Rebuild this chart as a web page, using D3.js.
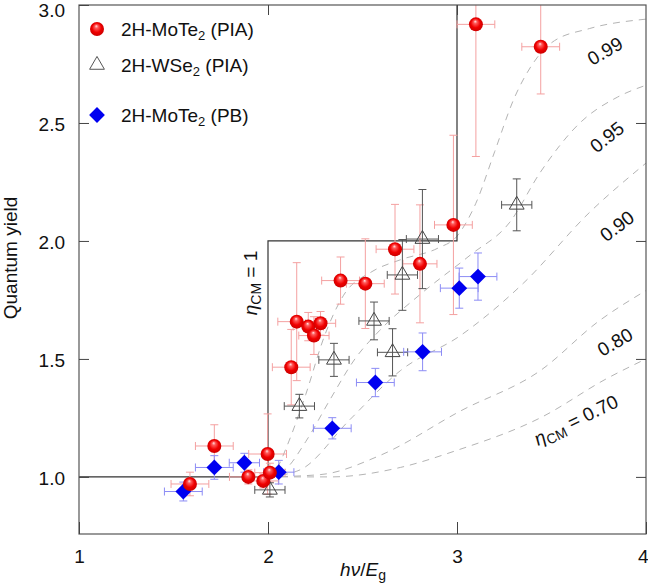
<!DOCTYPE html>
<html>
<head>
<meta charset="utf-8">
<script src="https://cdn.jsdelivr.net/npm/d3@7"></script>
<style>
  body { margin: 0; background: #fff; }
  text { font-family: "Liberation Sans", Arial, sans-serif; fill: #111; }
</style>
</head>
<body>
<div id="chart"></div>
<script>
// --- data ---
var moteX    = [1.587, 1.716, 1.896, 1.975, 1.998, 2.010, 2.123, 2.152, 2.213, 2.243, 2.278, 2.384, 2.515, 2.672, 2.804, 2.981, 3.100, 3.443];
var moteY    = [0.970, 1.131, 1.000, 0.983, 1.097, 1.018, 1.465, 1.658, 1.637, 1.599, 1.651, 1.832, 1.819, 1.965, 1.903, 2.068, 2.918, 2.823];
var moteXErr = [0.10, 0.10, 0.10, 0.08, 0.10, 0.08, 0.10, 0.10, 0.08, 0.08, 0.08, 0.10, 0.10, 0.10, 0.09, 0.10, 0.10, 0.10];
var moteYErr = [0.05, 0.09, 0.03, 0.03, 0.17, 0.04, 0.16, 0.25, 0.06, 0.08, 0.05, 0.10, 0.19, 0.19, 0.25, 0.38, 0.56, 0.20];

var wseX    = [2.010, 2.166, 2.349, 2.561, 2.659, 2.711, 2.817, 3.316];
var wseY    = [0.945, 1.300, 1.496, 1.661, 1.528, 1.856, 2.008, 2.153];
var wseXErr = [0.08, 0.08, 0.08, 0.08, 0.08, 0.08, 0.085, 0.08];
var wseYErr = [0.03, 0.05, 0.07, 0.08, 0.10, 0.15, 0.21, 0.11];

var pbX    = [1.552, 1.716, 1.875, 2.057, 2.340, 2.568, 2.818, 3.012, 3.111];
var pbY    = [0.938, 1.040, 1.060, 1.020, 1.206, 1.400, 1.530, 1.800, 1.849];
var pbXErr = [0.10, 0.10, 0.08, 0.08, 0.10, 0.10, 0.10, 0.10, 0.10];
var pbYErr = [0.04, 0.05, 0.04, 0.05, 0.045, 0.06, 0.08, 0.085, 0.10];

// ideal staircase (eta_CM = 1)
var stepX = [1, 2, 2, 3, 3];
var stepY = [1, 1, 2, 2, 3];

// model curves for eta_CM < 1 (traced)
var etaLabels = ["0.99", "0.95", "0.90", "0.80", "0.70"];
var curve099 = [[2, 1], [2.05, 1.04], [2.1, 1.13], [2.2, 1.35], [2.3, 1.6], [2.4, 1.77], [2.55, 1.87], [2.7, 1.92], [2.9, 1.97], [3.0, 2.02], [3.05, 2.08], [3.1, 2.16], [3.2, 2.38], [3.3, 2.6], [3.4, 2.75], [3.5, 2.84], [3.7, 2.9], [4.0, 2.94]];
var curve095 = [[2, 1], [2.09, 1.03], [2.2, 1.15], [2.33, 1.33], [2.46, 1.5], [2.59, 1.62], [2.8, 1.77], [3.07, 1.94], [3.28, 2.08], [3.44, 2.29], [3.65, 2.5], [3.85, 2.61], [4.0, 2.66]];
var curve090 = [[2, 1], [2.17, 1.03], [2.43, 1.24], [2.7, 1.45], [3.02, 1.6], [3.35, 1.82], [3.7, 2.12], [4.0, 2.33]];
var curve080 = [[2, 1], [2.28, 1.01], [2.59, 1.09], [3.02, 1.28], [3.44, 1.45], [3.75, 1.66], [4.0, 1.79]];
var curve070 = [[2, 1], [2.33, 1.0], [2.7, 1.04], [2.99, 1.11], [3.44, 1.25], [3.8, 1.42], [4.0, 1.5]];

var xTicks = [1, 2, 3, 4];
var yTicks = [1.0, 1.5, 2.0, 2.5, 3.0];

// --- layout ---
var W = 648, H = 585;
var mLeft = 79, mRight = 646, mTop = 5, mBottom = 534;

var svg = d3.select("#chart").append("svg")
    .attr("width", W)
    .attr("height", H);

var x = d3.scaleLinear().domain([1, 4]).range([mLeft, mRight]);
var y = d3.scaleLinear().domain([0.758, 3.0]).range([mBottom, mTop]);

var defs = svg.append("defs");
var grad = defs.append("radialGradient")
    .attr("id", "ball")
    .attr("cx", "50%").attr("cy", "50%").attr("r", "55%")
    .attr("fx", "45%").attr("fy", "28%");
grad.append("stop").attr("offset", "0%").attr("stop-color", "#ffe6e6");
grad.append("stop").attr("offset", "22%").attr("stop-color", "#ff5a5a");
grad.append("stop").attr("offset", "60%").attr("stop-color", "#f00000");
grad.append("stop").attr("offset", "100%").attr("stop-color", "#c40000");

defs.append("clipPath").attr("id", "plotclip")
    .append("rect")
    .attr("x", mLeft).attr("y", mTop)
    .attr("width", mRight - mLeft).attr("height", mBottom - mTop);

var plot = svg.append("g").attr("clip-path", "url(#plotclip)");

// dashed model curves
var curveLine = d3.line()
    .x(function (d) { return x(d[0]); })
    .y(function (d) { return y(d[1]); })
    .curve(d3.curveMonotoneX);

[curve099, curve095, curve090, curve080, curve070].forEach(function (c) {
    plot.append("path")
        .datum(c)
        .attr("d", curveLine)
        .attr("fill", "none")
        .attr("stroke", "#b4b4b4")
        .attr("stroke-width", 1)
        .attr("stroke-dasharray", "7,6");
});

// staircase
var stepLine = d3.line()
    .x(function (d) { return x(d[0]); })
    .y(function (d) { return y(d[1]); });

plot.append("path")
    .datum(stepX.map(function (v, i) { return [v, stepY[i]]; }))
    .attr("d", stepLine)
    .attr("fill", "none")
    .attr("stroke", "#333")
    .attr("stroke-width", 1.2);

// error bars
function errorBars(xs, ys, xe, ye, color) {
    var g = plot.append("g")
        .attr("stroke", color)
        .attr("stroke-width", 1)
        .attr("fill", "none");
    var cap = 4;
    xs.forEach(function (v, i) {
        var cx = x(v), cy = y(ys[i]);
        var x0 = x(v - xe[i]), x1 = x(v + xe[i]);
        var y0 = y(ys[i] - ye[i]), y1 = y(ys[i] + ye[i]);
        g.append("line").attr("x1", x0).attr("x2", x1).attr("y1", cy).attr("y2", cy);
        g.append("line").attr("x1", x0).attr("x2", x0).attr("y1", cy - cap).attr("y2", cy + cap);
        g.append("line").attr("x1", x1).attr("x2", x1).attr("y1", cy - cap).attr("y2", cy + cap);
        g.append("line").attr("x1", cx).attr("x2", cx).attr("y1", y0).attr("y2", y1);
        g.append("line").attr("x1", cx - cap).attr("x2", cx + cap).attr("y1", y0).attr("y2", y0);
        g.append("line").attr("x1", cx - cap).attr("x2", cx + cap).attr("y1", y1).attr("y2", y1);
    });
}

errorBars(moteX, moteY, moteXErr, moteYErr, "#f4a0a0");
errorBars(wseX, wseY, wseXErr, wseYErr, "#555");
errorBars(pbX, pbY, pbXErr, pbYErr, "#8c8cf5");

// markers
var triSym = d3.symbol().type(d3.symbolTriangle).size(95);
var diaSym = d3.symbol().type(d3.symbolSquare).size(125);

plot.selectAll(".tri")
    .data(wseX)
    .enter().append("path")
    .attr("class", "tri")
    .attr("d", triSym)
    .attr("transform", function (d, i) { return "translate(" + x(d) + "," + y(wseY[i]) + ")"; })
    .attr("fill", "none")
    .attr("stroke", "#444")
    .attr("stroke-width", 1);

plot.selectAll(".dia")
    .data(pbX)
    .enter().append("path")
    .attr("class", "dia")
    .attr("d", diaSym)
    .attr("transform", function (d, i) { return "translate(" + x(d) + "," + y(pbY[i]) + ") rotate(45)"; })
    .attr("fill", "#0000f0");

plot.selectAll(".ball")
    .data(moteX)
    .enter().append("circle")
    .attr("class", "ball")
    .attr("cx", function (d) { return x(d); })
    .attr("cy", function (d, i) { return y(moteY[i]); })
    .attr("r", 7)
    .attr("fill", "url(#ball)");

// frame
svg.append("rect")
    .attr("x", mLeft).attr("y", mTop)
    .attr("width", mRight - mLeft).attr("height", mBottom - mTop)
    .attr("fill", "none")
    .attr("stroke", "#555")
    .attr("stroke-width", 1.2);

// axes (inward ticks)
function styleAxis(g) {
    g.select(".domain").remove();
    g.selectAll("line").attr("stroke", "#444");
    g.selectAll("text").attr("font-size", 19).attr("font-family", "Liberation Sans, Arial, sans-serif").attr("fill", "#111");
}

svg.append("g")
    .attr("transform", "translate(0," + mBottom + ")")
    .call(d3.axisBottom(x).tickValues(xTicks).tickSize(-12).tickPadding(16).tickFormat(d3.format("d")))
    .call(styleAxis)
    .call(function (g) {
        // last label sits against the right edge
        g.selectAll(".tick").filter(function (d) { return d === 4; }).select("text")
            .attr("text-anchor", "end").attr("x", 2);
    });

svg.append("g")
    .attr("transform", "translate(0," + mTop + ")")
    .call(d3.axisTop(x).tickValues([2, 3]).tickSize(-10).tickFormat(""))
    .call(styleAxis);

svg.append("g")
    .attr("transform", "translate(" + mLeft + ",0)")
    .call(d3.axisLeft(y).tickValues(yTicks).tickSize(-10).tickPadding(14).tickFormat(d3.format(".1f")))
    .call(styleAxis)
    .call(function (g) {
        g.selectAll(".tick text").attr("dy", "0.42em");
        g.selectAll(".tick").filter(function (d) { return d === 3; }).select("text").attr("dy", "0.62em");
    });

svg.append("g")
    .attr("transform", "translate(" + mRight + ",0)")
    .call(d3.axisRight(y).tickValues([1.0, 1.5, 2.0, 2.5]).tickSize(-10).tickFormat(""))
    .call(styleAxis);

// axis titles
svg.append("text")
    .attr("transform", "translate(17,258) rotate(-90)")
    .attr("text-anchor", "middle")
    .attr("font-size", 19)
    .text("Quantum yield");

var xt = svg.append("text")
    .attr("x", 363).attr("y", 576)
    .attr("text-anchor", "middle")
    .attr("font-size", 19);
xt.append("tspan").attr("font-style", "italic").text("hν");
xt.append("tspan").text("/");
xt.append("tspan").attr("font-style", "italic").text("E");
xt.append("tspan").attr("font-size", 14).attr("dy", 4).text("g");

// eta_CM = 1 label
var e1 = svg.append("text")
    .attr("transform", "translate(257,283) rotate(-90)")
    .attr("text-anchor", "middle")
    .attr("font-size", 19);
e1.append("tspan").attr("font-style", "italic").text("η");
e1.append("tspan").attr("font-size", 14).attr("dy", 4).text("CM");
e1.append("tspan").attr("dy", -4).text(" = 1");

// curve labels
var labelPos = [[605, 51, -30], [607, 137, -38], [617, 226, -37], [615, 342, -30]];
labelPos.forEach(function (p, i) {
    svg.append("text")
        .attr("transform", "translate(" + p[0] + "," + p[1] + ") rotate(" + p[2] + ")")
        .attr("text-anchor", "middle")
        .attr("dy", "0.35em")
        .attr("font-size", 19)
        .text(etaLabels[i]);
});
var e7 = svg.append("text")
    .attr("transform", "translate(576,420) rotate(-26)")
    .attr("text-anchor", "middle")
    .attr("dy", "0.35em")
    .attr("font-size", 19);
e7.append("tspan").attr("font-style", "italic").text("η");
e7.append("tspan").attr("font-size", 14).attr("dy", 4).text("CM");
e7.append("tspan").attr("dy", -4).text(" = " + etaLabels[4]);

// legend
var legend = svg.append("g");
legend.append("circle").attr("cx", 97).attr("cy", 29).attr("r", 7).attr("fill", "url(#ball)");
legend.append("path").attr("d", triSym).attr("transform", "translate(97,65)")
    .attr("fill", "none").attr("stroke", "#555");
legend.append("path").attr("d", diaSym).attr("transform", "translate(97,115) rotate(45)")
    .attr("fill", "#0000f0");

var legendNames = [["2H-MoTe", "2", " (PIA)", 36], ["2H-WSe", "2", " (PIA)", 72], ["2H-MoTe", "2", " (PB)", 122]];
legendNames.forEach(function (n) {
    var t = legend.append("text").attr("x", 121).attr("y", n[3]).attr("font-size", 19);
    t.append("tspan").text(n[0]);
    t.append("tspan").attr("font-size", 13).attr("dy", 4).text(n[1]);
    t.append("tspan").attr("dy", -4).text(n[2]);
});
</script>
</body>
</html>
